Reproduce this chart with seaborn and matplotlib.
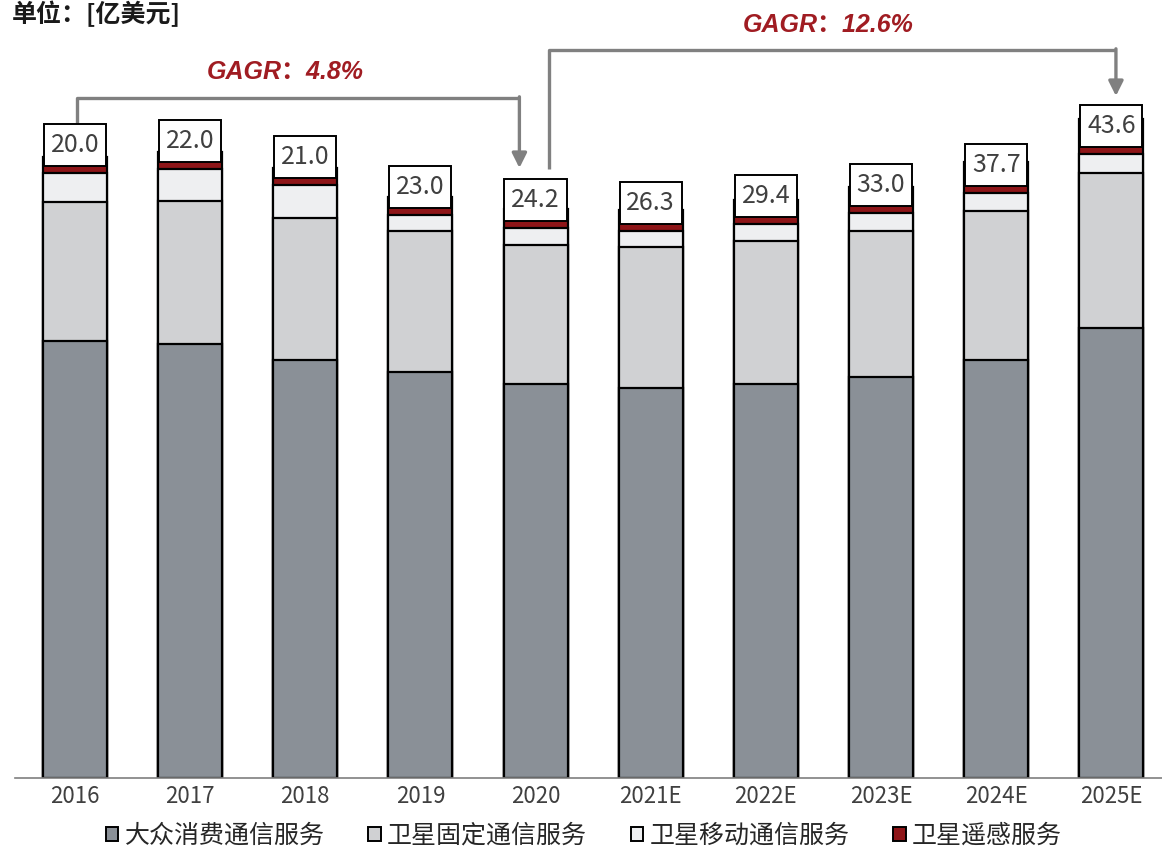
import pandas as pd
import matplotlib
matplotlib.use('Agg')
import matplotlib.pyplot as plt
import seaborn as sns
import numpy as np
from matplotlib.patches import Patch, Rectangle

years = ['2016', '2017', '2018', '2019', '2020', '2021E', '2022E', '2023E', '2024E', '2025E']
# segment heights
mass_comm = [43.7, 43.4, 41.8, 40.6, 39.4, 39.0, 39.4, 40.1, 41.8, 45.0]
fixed_comm = [13.9, 14.3, 14.2, 14.1, 13.9, 14.1, 14.3, 14.6, 14.9, 15.5]
mobile_comm = [2.9, 3.2, 3.3, 1.6, 1.7, 1.6, 1.7, 1.8, 1.8, 1.9]
remote_sens = [1.6, 1.7, 1.7, 1.8, 1.9, 2.1, 2.4, 2.6, 3.1, 3.5]
total_labels = ['20.0', '22.0', '21.0', '23.0', '24.2', '26.3', '29.4', '33.0', '37.7', '43.6']
series_names = ['大众消费通信服务', '卫星固定通信服务', '卫星移动通信服务', '卫星遥感服务']
colors = ['#8a9097', '#d0d1d3', '#eeeff1', '#8e1518']
cagr_labels = ['GAGR：4.8%', 'GAGR：12.6%']

sns.set_theme(style='white')
plt.rcParams['font.family'] = ['Noto Sans CJK SC', 'DejaVu Sans']

df = pd.DataFrame({'year': years, 'a': mass_comm, 'b': fixed_comm,
                   'c': mobile_comm, 'd': remote_sens})
df['s1'] = df['a']
df['s2'] = df['s1'] + df['b']
df['s3'] = df['s2'] + df['c']
df['s4'] = df['s3'] + df['d']

fig = plt.figure(figsize=(11.62, 8.49), dpi=100)
ax = fig.add_axes([15 / 1162, 71 / 849, 1 - 15 / 1162, 778 / 849])

# stacked bars: draw cumulative totals from top layer down
for col, c in zip(['s4', 's3', 's2', 's1'], colors[::-1]):
    sns.barplot(data=df, x='year', y=col, color=c, width=0.556, ax=ax,
                edgecolor='black', linewidth=1.6, saturation=1)

ax.set_xlim(-0.52, 9.44)
ax.set_ylim(0, 77.8)
ax.set_xlabel('')
ax.set_ylabel('')
ax.set_yticks([])
for s in ['left', 'right', 'top']:
    ax.spines[s].set_visible(False)
ax.spines['bottom'].set_color('#7f7f7f')
ax.spines['bottom'].set_linewidth(1.2)
ax.tick_params(axis='x', length=0, labelsize=16, colors='#404040', pad=5)

# total label boxes
box_w, box_h = 0.54, 4.2
box_bottom = df['s3'] + 0.7
for i, lab in enumerate(total_labels):
    ax.add_patch(Rectangle((i - box_w / 2, box_bottom[i]), box_w, box_h,
                           fc='white', ec='black', lw=1.4, zorder=4))
    ax.text(i, box_bottom[i] + box_h / 2, lab, ha='center', va='center',
            fontsize=18, color='#404040', zorder=5)

box_top = box_bottom + box_h
gray = '#808080'
red = '#a01c22'

# CAGR 2016-2020
y1 = 68.0
ax.plot([0.02, 0.02, 3.86], [box_top[0], y1, y1], color=gray, lw=2.4,
        solid_capstyle='butt', clip_on=False)
ax.annotate('', xy=(3.86, box_top[4] + 1.1), xytext=(3.86, y1 + 0.12),
            arrowprops=dict(arrowstyle='-|>', color=gray, lw=2.4,
                            mutation_scale=22, shrinkA=0, shrinkB=0))
ax.text(1.83, 70.6, cagr_labels[0], ha='center', va='center', fontsize=18,
        color=red, style='italic', weight='bold',
        family=['Liberation Sans', 'Noto Sans CJK SC'])

# CAGR 2020-2025
y2 = 72.8
ax.plot([4.12, 4.12, 9.04], [box_top[4] + 1.0, y2, y2], color=gray, lw=2.4,
        solid_capstyle='butt', clip_on=False)
ax.annotate('', xy=(9.04, box_top[9] + 0.9), xytext=(9.04, y2 + 0.12),
            arrowprops=dict(arrowstyle='-|>', color=gray, lw=2.4,
                            mutation_scale=22, shrinkA=0, shrinkB=0))
ax.text(6.54, 75.3, cagr_labels[1], ha='center', va='center', fontsize=18,
        color=red, style='italic', weight='bold',
        family=['Liberation Sans', 'Noto Sans CJK SC'])

# unit title in the top-left corner
fig.text(12 / 1162, 1 - 14 / 849, '单位：[亿美元]', ha='left', va='center',
         fontsize=18, weight='bold', color='#1a1a1a')

handles = [Patch(facecolor=c, edgecolor='black', linewidth=1.4) for c in colors]
fig.legend(handles, series_names, loc='center', bbox_to_anchor=(584 / 1162, 1 - 836 / 849),
           ncol=4, frameon=False, fontsize=18, handlelength=0.5, handleheight=0.5,
           handletextpad=0.25, columnspacing=1.75, labelcolor='#262626')

plt.savefig('out.png', dpi=100)
